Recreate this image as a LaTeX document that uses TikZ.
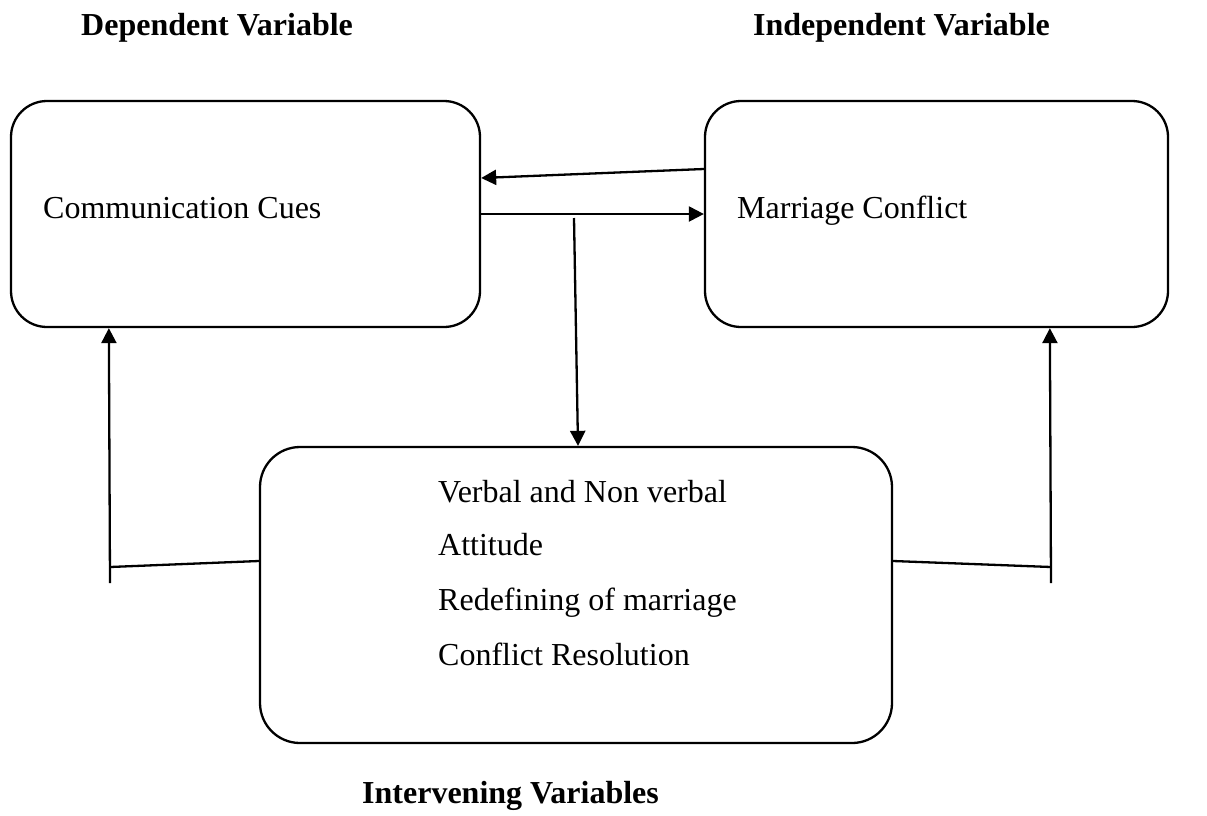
\documentclass[tikz,border=0pt]{standalone}
\usepackage{fontspec}
\setmainfont{Liberation Serif}
\usetikzlibrary{positioning, arrows.meta, calc}

\tikzset{
  varbox/.style={draw, line width=2.3pt, rounded corners=36pt, inner sep=0pt},
  link/.style={line width=2.3pt, -{Triangle[width=15pt,length=15pt]}},
  bare/.style={line width=2.3pt},
  cuetext/.style={anchor=base west, inner sep=0pt, font=\fontsize{32}{38}\selectfont},
  heading/.style={anchor=base west, inner sep=0pt, font=\fontsize{32}{38}\selectfont\bfseries},
}

\begin{document}
\begin{tikzpicture}[x=1pt,y=-1pt]
        \useasboundingbox (0,0) rectangle (1207,815);
        % headings
        \node[heading] (dvhead) at (81,35) {Dependent Variable};
        \node[heading] (ivhead) at (753,35) {Independent Variable};
        \node[heading] (inhead) at (362,803) {Intervening Variables};
        % boxes
        \begin{scope}
            \node[varbox, minimum width=469pt, minimum height=226pt] (cc) at (245.5,214) {};
            \node[cuetext] (cctext) at (43,218) {Communication Cues};
        \end{scope}
        \begin{scope}
            \node[varbox, minimum width=463pt, minimum height=226pt] (mc) at (936.5,214) {};
            \node[cuetext] (mctext) at (737,218) {Marriage Conflict};
        \end{scope}
        \begin{scope}
            \node[varbox, rounded corners=40pt, minimum width=632pt, minimum height=296pt] (iv) at (576,595) {};
            \node[cuetext] (ivone) at (438,502) {Verbal and Non verbal};
            \node[cuetext] (ivtwo) at (438,555) {Attitude};
            \node[cuetext] (ivthree) at (438,610) {Redefining of marriage};
            \node[cuetext] (ivfour) at (438,665) {Conflict Resolution};
        \end{scope}
        % free ends
        \coordinate (drop) at (574,218);
        \coordinate (lfoot) at (110,583);
        \coordinate (ljoin) at (110,567);
        \coordinate (rfoot) at (1051,583);
        \coordinate (rjoin) at (1051,567);
        % connectors
        \draw[link] ([yshift=45pt]mc.west) -- ([yshift=36pt]cc.east);
        \draw[link] (cc.east) -- (mc.west);
        \draw[link] (drop) -- ([xshift=2pt]iv.north);
        \draw[link] (lfoot) -- ([xshift=99pt]cc.south west);
        \draw[bare] (ljoin) -- ([yshift=34pt]iv.west);
        \draw[link] (rfoot) -- ([xshift=346pt]mc.south west);
        \draw[bare] ([yshift=34pt]iv.east) -- (rjoin);
\end{tikzpicture}
\end{document}
